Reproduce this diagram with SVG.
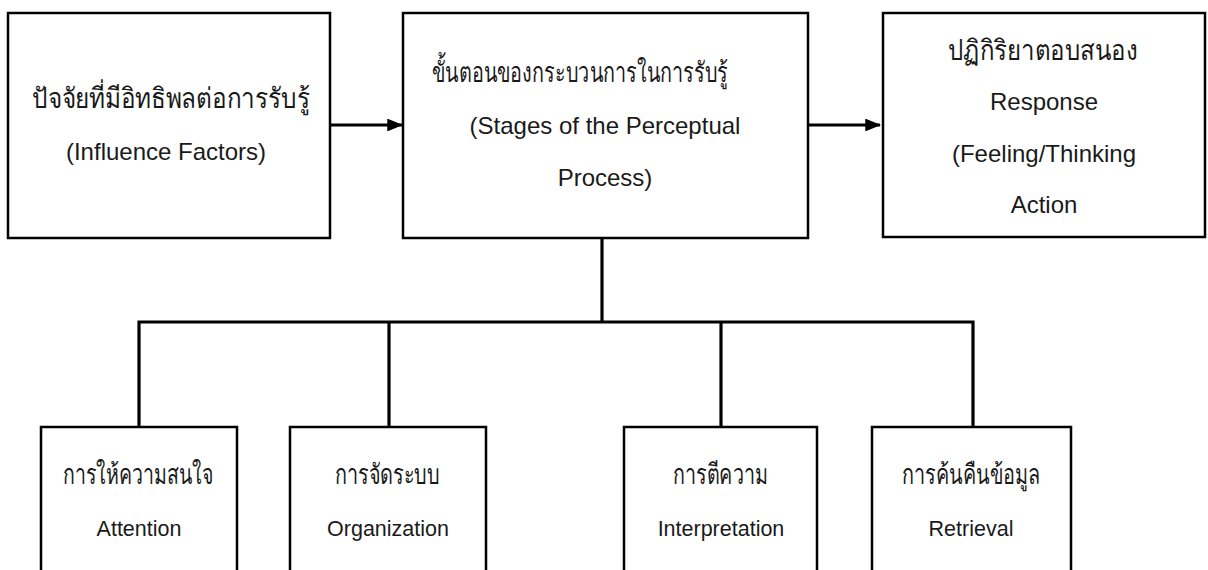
<svg xmlns="http://www.w3.org/2000/svg" width="1208" height="570" viewBox="0 0 1208 570">
<style>
.box{fill:#fff;stroke:#000;stroke-width:2.5}
.conn{fill:none;stroke:#000;stroke-width:3.2}
.en{font-family:"Liberation Sans",Arial,sans-serif;font-size:24px;fill:#1a1a1a;text-anchor:middle}
.ens{font-family:"Liberation Sans",Arial,sans-serif;font-size:21.5px;fill:#1a1a1a;text-anchor:middle}
.th{font-family:"Liberation Sans","Noto Sans",sans-serif;font-size:28px;fill:#1a1a1a}
</style>
<defs>
<marker id="arr" markerWidth="5" markerHeight="4" refX="4.6" refY="2" orient="auto" markerUnits="strokeWidth">
<path d="M0,0 L5,2 L0,4 Z" fill="#000"/>
</marker>
</defs>
<rect width="1208" height="570" fill="#fff"/>
<g id="connectors">
<line class="conn" x1="330" y1="125" x2="402" y2="125" marker-end="url(#arr)"/>
<line class="conn" x1="808" y1="125" x2="880" y2="125" marker-end="url(#arr)"/>
<line class="conn" x1="602" y1="238" x2="602" y2="322"/>
<polyline class="conn" points="139,427 139,322 973,322 973,427"/>
<line class="conn" x1="389" y1="322" x2="389" y2="427"/>
<line class="conn" x1="721" y1="322" x2="721" y2="427"/>
</g>
<g id="node-influence">
<rect class="box" x="8" y="13" width="322" height="225"/>
<text class="th" x="32" y="108" textLength="278" lengthAdjust="spacingAndGlyphs">ปัจจัยที่มีอิทธิพลต่อการรับรู้</text>
<text class="en" x="166" y="160">(Influence Factors)</text>
</g>
<g id="node-stages">
<rect class="box" x="403" y="13" width="405" height="225"/>
<text class="th" x="432" y="82" textLength="296" lengthAdjust="spacingAndGlyphs">ขั้นตอนของกระบวนการในการรับรู้</text>
<text class="en" x="605" y="134">(Stages of the Perceptual</text>
<text class="en" x="605" y="186">Process)</text>
</g>
<g id="node-response">
<rect class="box" x="883" y="13" width="322" height="224"/>
<text class="th" x="948" y="60" textLength="190" lengthAdjust="spacingAndGlyphs">ปฏิกิริยาตอบสนอง</text>
<text class="en" x="1044" y="110">Response</text>
<text class="en" x="1044" y="162">(Feeling/Thinking</text>
<text class="en" x="1044" y="213">Action</text>
</g>
<g id="node-attention">
<rect class="box" x="41" y="427" width="196" height="160"/>
<text class="th" x="63" y="484" textLength="150" lengthAdjust="spacingAndGlyphs">การให้ความสนใจ</text>
<text class="ens" x="139" y="536">Attention</text>
</g>
<g id="node-organization">
<rect class="box" x="290" y="427" width="196" height="160"/>
<text class="th" x="335" y="484" textLength="105" lengthAdjust="spacingAndGlyphs">การจัดระบบ</text>
<text class="ens" x="388" y="536">Organization</text>
</g>
<g id="node-interpretation">
<rect class="box" x="624" y="427" width="193" height="160"/>
<text class="th" x="673" y="484" textLength="95" lengthAdjust="spacingAndGlyphs">การตีความ</text>
<text class="ens" x="721" y="536">Interpretation</text>
</g>
<g id="node-retrieval">
<rect class="box" x="872" y="427" width="199" height="160"/>
<text class="th" x="902" y="484" textLength="138" lengthAdjust="spacingAndGlyphs">การค้นคืนข้อมูล</text>
<text class="ens" x="971" y="536">Retrieval</text>
</g>
</svg>
